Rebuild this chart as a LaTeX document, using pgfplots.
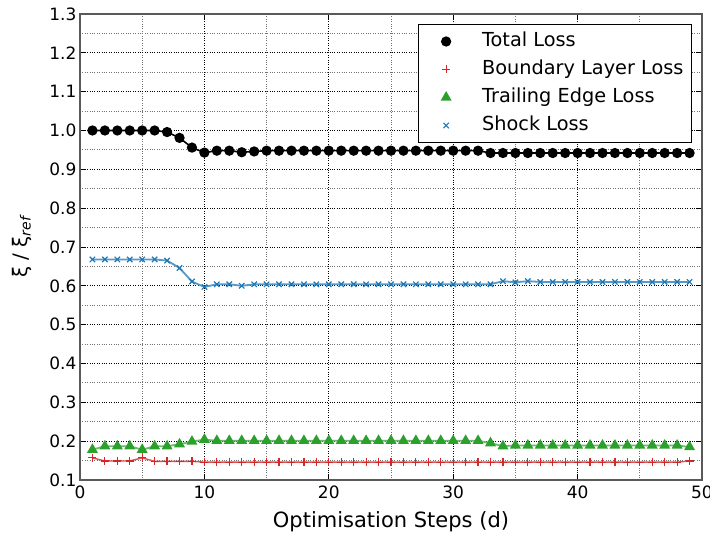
\documentclass[border=0pt]{standalone}
\usepackage{fontspec}
\setmainfont{DejaVu Sans}
\usepackage{pgfplots}
\usepackage{pgfplotstable}
\pgfplotsset{compat=1.18}
\definecolor{cblue}{HTML}{1F77B4}
\definecolor{cgreen}{HTML}{2CA02C}
\definecolor{cred}{HTML}{D62728}

\pgfplotstableread{
x t b e s
1 1.000 0.157 0.178 0.668
2 1.000 0.149 0.187 0.668
3 1.000 0.149 0.187 0.668
4 1.000 0.149 0.187 0.668
5 1.000 0.157 0.178 0.668
6 1.000 0.148 0.187 0.668
7 0.996 0.148 0.187 0.665
8 0.981 0.148 0.192 0.646
9 0.956 0.148 0.199 0.611
10 0.943 0.146 0.204 0.597
11 0.948 0.146 0.201 0.604
12 0.948 0.146 0.201 0.604
13 0.944 0.146 0.201 0.600
14 0.946 0.146 0.201 0.604
15 0.948 0.146 0.201 0.604
16 0.948 0.146 0.201 0.604
17 0.948 0.146 0.201 0.604
18 0.948 0.146 0.201 0.604
19 0.948 0.146 0.201 0.604
20 0.948 0.146 0.201 0.604
21 0.948 0.146 0.201 0.604
22 0.948 0.146 0.201 0.604
23 0.948 0.146 0.201 0.604
24 0.948 0.146 0.201 0.604
25 0.948 0.146 0.201 0.604
26 0.948 0.146 0.201 0.604
27 0.948 0.146 0.201 0.604
28 0.948 0.146 0.201 0.604
29 0.948 0.146 0.201 0.604
30 0.948 0.146 0.201 0.604
31 0.948 0.146 0.201 0.604
32 0.948 0.146 0.201 0.604
33 0.942 0.146 0.195 0.604
34 0.942 0.146 0.187 0.612
35 0.942 0.146 0.189 0.609
36 0.942 0.146 0.189 0.612
37 0.942 0.146 0.189 0.610
38 0.942 0.146 0.189 0.610
39 0.942 0.146 0.189 0.610
40 0.942 0.146 0.189 0.610
41 0.942 0.146 0.189 0.610
42 0.942 0.146 0.189 0.610
43 0.942 0.146 0.189 0.610
44 0.942 0.146 0.189 0.610
45 0.942 0.146 0.189 0.610
46 0.942 0.146 0.189 0.610
47 0.942 0.146 0.189 0.610
48 0.942 0.146 0.189 0.610
49 0.942 0.149 0.185 0.610
}\losses

\begin{document}
\begin{tikzpicture}
\path[use as bounding box] (0,0) rectangle (710pt,534pt);
\begin{axis}[
  scale only axis,
  width=622pt, height=466pt,
  at={(80pt,54pt)}, anchor=south west,
  xmin=0, xmax=50, ymin=0.1, ymax=1.3,
  xtick={0,10,20,30,40,50},
  minor xtick={5,15,25,35,45},
  ytick={0.1,0.2,0.3,0.4,0.5,0.6,0.7,0.8,0.9,1.0,1.1,1.2,1.3},
  minor ytick={0.15,0.25,0.35,0.45,0.55,0.65,0.75,0.85,0.95,1.05,1.15,1.25},
  grid=both,
  major grid style={black, dotted, line width=0.9pt},
  minor grid style={black!55, dotted, line width=0.9pt},
  tick align=inside, tick pos=both,
  major tick length=6pt, minor tick length=0pt,
  tick style={black, line width=0.8pt},
  axis line style={black!65, line width=1.6pt},
  /pgf/number format/assume math mode=true,
  yticklabel style={/pgf/number format/fixed, /pgf/number format/fixed zerofill, /pgf/number format/precision=1},
  ticklabel style={font=\fontsize{17}{20}\selectfont},
  xticklabel style={yshift=-2pt},
  xlabel={Optimisation Steps (d)},
  xlabel style={font=\fontsize{21}{25}\selectfont, at={(axis description cs:0.5,-0.1024)}, anchor=base},
  ylabel={ξ / ξ\textsubscript{\itshape ref}},
  ylabel style={font=\fontsize{20}{24}\selectfont, at={(axis description cs:-0.094,0.5)}, anchor=center},
  legend cell align=left,
  legend image code/.code={\path[draw=none] (0pt,0pt) -- (56pt,0pt); \draw[#1] plot[only marks] coordinates {(22pt,0pt)};},
  legend style={at={(1,1)}, anchor=north east, xshift=-10pt, yshift=-10pt,
    draw=black, line width=1pt, inner xsep=6pt, inner ysep=6pt,
    font=\fontsize{19.3}{23}\selectfont, row sep=6pt,
    nodes={inner sep=2pt, text height=14pt, text depth=4pt},
    /tikz/every even column/.append style={column sep=7pt}},
]
\addplot[black, line width=1.6pt, mark=*, mark size=4.3pt, mark options={solid}] table[x=x, y=t] {\losses};
\addlegendentry{Total Loss}
\addplot[cred!80, line width=1.4pt, mark=+, mark size=4pt, mark options={cred, line width=1.2pt}] table[x=x, y=b] {\losses};
\addlegendentry{Boundary Layer Loss}
\addplot[cgreen!70, line width=1.8pt, mark=triangle*, mark size=4.6pt, mark options={cgreen}] table[x=x, y=e] {\losses};
\addlegendentry{Trailing Edge Loss}
\addplot[cblue!75, line width=1.8pt, mark=x, mark size=3.8pt, mark options={cblue, line width=1.2pt}] table[x=x, y=s] {\losses};
\addlegendentry{Shock Loss}
\end{axis}
\end{tikzpicture}
\end{document}
